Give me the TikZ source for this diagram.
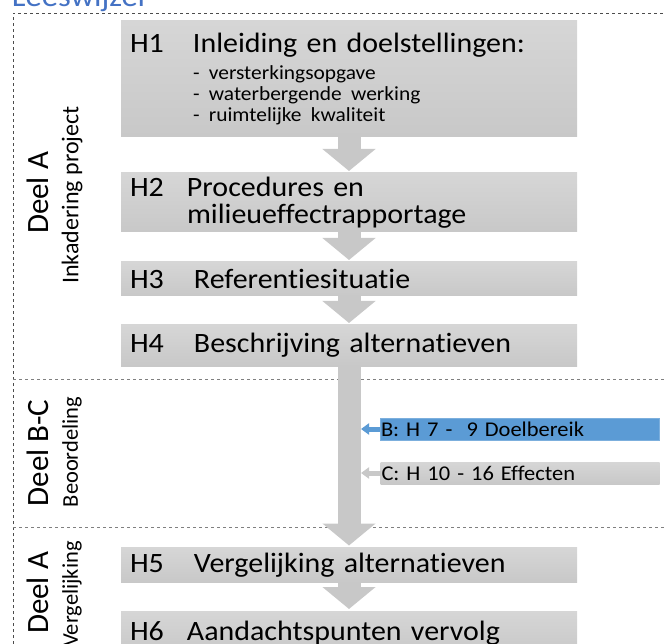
\documentclass[tikz,border=0pt]{standalone}
\usepackage{fontspec}
\setmainfont{Carlito}[Ligatures=NoCommon]
\newfontfamily\wfont{Carlito}[Ligatures=NoCommon, FakeStretch=1.07]
\usepackage{xcolor}
\usetikzlibrary{arrows.meta}
\usetikzlibrary{positioning}
\definecolor{boxtop}{RGB}{214,214,214}
\definecolor{boxbot}{RGB}{200,200,200}
\definecolor{flowgray}{RGB}{200,200,200}
\definecolor{partblue}{RGB}{91,155,213}
\definecolor{titleblue}{RGB}{68,114,196}
\newcommand{\hfont}{\wfont\fontsize{28}{27}\selectfont}
\newcommand{\subfont}{\fontsize{20}{21}\selectfont}

\begin{document}
\begin{tikzpicture}[x=1pt, y=-1pt,
    every node/.style={inner sep=0pt, outer sep=0pt},
    hbox/.style={top color=boxtop, bottom color=boxbot, minimum width=456pt, text width=438pt, align=left, font=\hfont},
    flow/.style={draw=flowgray, line width=23pt, -{Triangle[width=52pt, length=22pt]}, shorten >=2pt},
    sideflow/.style={line width=5pt, -{Triangle[width=11pt, length=8pt]}},
    side/.style={minimum width=279pt, minimum height=22pt, text width=277pt, align=left, font=\wfont\fontsize{21}{21}\selectfont},
    part/.style={rotate=90, font=\fontsize{31}{31}\selectfont},
    subpart/.style={rotate=90, font=\fontsize{22.5}{22.5}\selectfont},
    sep/.style={gray, dashed, line width=0.8pt}]
    \clip (0,0) rectangle (664,644);

    \node(title) [anchor=base west, text=titleblue, font=\wfont\fontsize{30.5}{30.5}\selectfont] at (12,6.5) {Leeswijzer};

    \draw[sep, black!70] (13,644) -- (13,13) -- (664,13);
    \draw[sep] (13,379) -- (664,379);
    \draw[sep] (13,527) -- (664,527);

    \node(deelA) [part] at (38,193) {Deel A};
    \node(inkadering) [subpart, font=\fontsize{24}{24}\selectfont] at (72,195) {Inkadering project};
    \node(deelBC) [part] at (38,453) {Deel B-C};
    \node(beoordeling) [subpart] at (72,452) {Beoordeling};
    \node(deelA2) [part] at (38,593) {Deel A};
    \node(vergelijking) [subpart] at (72,594) {Vergelijking};

    \node(h1) [hbox, minimum height=116pt] at (349,79) {\makebox[63pt][l]{H1}Inleiding en doelstellingen:\\\hspace*{63pt}\parbox[t]{300pt}{\subfont - versterkingsopgave\\- waterbergende werking\\- ruimtelijke kwaliteit}};
    \node(h2) [hbox, minimum height=59pt] at (349,202.5) {\makebox[57pt][l]{H2}Procedures en\\\hspace*{57pt}milieueffectrapportage};
    \node(h3) [hbox, minimum height=34pt] at (349,279) {\makebox[64pt][l]{H3}Referentiesituatie};
    \node(h4) [hbox, minimum height=41pt] at (349,345.5) {\makebox[64pt][l]{H4}Beschrijving alternatieven};
    \node(h5) [hbox, minimum height=35pt] at (349,565) {\makebox[64pt][l]{H5}Vergelijking alternatieven};
    \node(h6) [hbox, minimum height=44pt] at (349,633) {\makebox[57pt][l]{H6}Aandachtspunten vervolg};

    \draw[flow] (h1) -- (h2);
    \draw[flow] (h2) -- (h3);
    \draw[flow] (h3) -- (h4);
    \draw[flow] (h4) -- (h5);
    \draw[flow] (h5) -- (h6);

    \node(doel) [side, fill=partblue, draw=partblue!80!white] at (519.5,429) {B: H 7 - \ 9 Doelbereik};
    \node(effect) [side, top color=boxtop, bottom color=boxbot] at (520,473) {C: H 10 - 16 Effecten};
    \coordinate(doelin) at (361,429);
    \coordinate(effectin) at (361,473);

    \draw[sideflow, partblue] (doel) -- (doelin);
    \draw[sideflow, flowgray] (effect) -- (effectin);
  \end{tikzpicture}
\end{document}
